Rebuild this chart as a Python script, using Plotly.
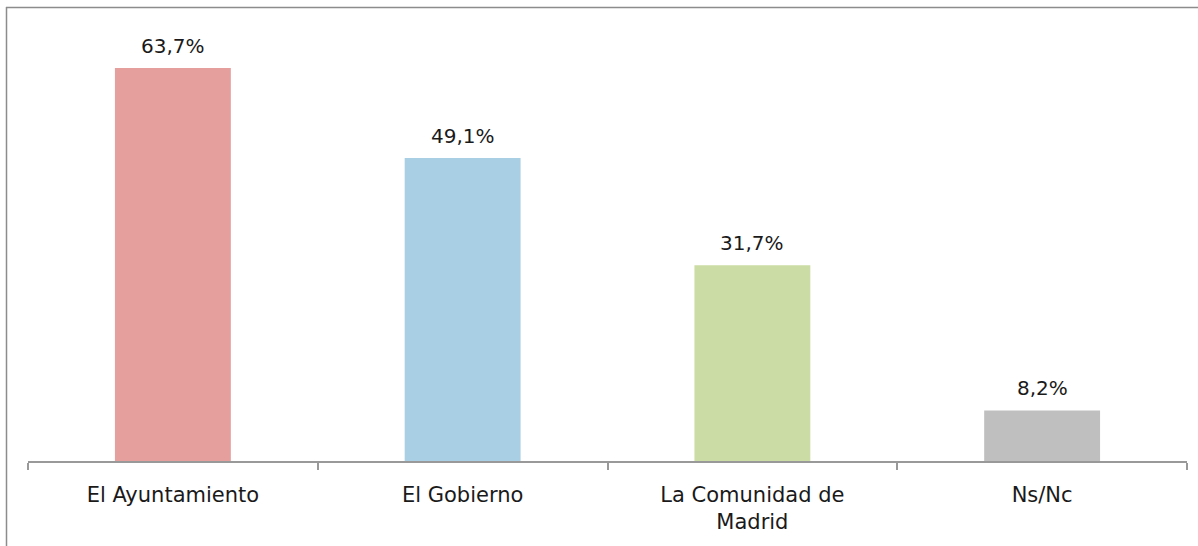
import plotly.graph_objects as go

categories = ["El Ayuntamiento", "El Gobierno", "La Comunidad de<br>Madrid", "Ns/Nc"]
values = [63.7, 49.1, 31.7, 8.2]
labels = ["63,7%", "49,1%", "31,7%", "8,2%"]
colors = ["#E59F9D", "#A9CFE5", "#CBDDA4", "#BFBFBF"]

W, H = 1198, 546
ml, mr, mt, mb = 28, 11, 29, 85
pw, ph = W - ml - mr, H - mt - mb

fig = go.Figure(go.Bar(
    x=categories, y=values,
    marker=dict(color=colors, line=dict(width=0)),
    width=0.4, cliponaxis=False, hoverinfo="skip",
))

for c, v, t in zip(categories, values, labels):
    fig.add_annotation(x=c, y=v, text=t, showarrow=False, yanchor="bottom",
                       yshift=8, font=dict(size=20, color="#1a1a1a"))

def px_x(p):
    return (p - ml) / pw

def px_y(p):
    return 1 - (p - mt) / ph

fig.update_layout(
    width=W, height=H,
    margin=dict(l=ml, r=mr, t=mt, b=mb),
    paper_bgcolor="white", plot_bgcolor="white",
    font=dict(family="DejaVu Sans", size=20, color="#1a1a1a"),
    showlegend=False,
    xaxis=dict(showline=True, linecolor="#999999", linewidth=1.5,
               ticks="outside", tickson="boundaries", ticklen=7,
               tickcolor="#999999", tickwidth=1.5, showgrid=False,
               ticklabelstandoff=14,
               tickfont=dict(size=21, color="#1a1a1a")),
    yaxis=dict(range=[0, 70], visible=False, showgrid=False),
    shapes=[
        dict(type="line", xref="paper", yref="paper",
             x0=px_x(6), x1=px_x(1198), y0=px_y(7.5), y1=px_y(7.5),
             line=dict(color="#8c8c8c", width=1.5)),
        dict(type="line", xref="paper", yref="paper",
             x0=px_x(6.5), x1=px_x(6.5), y0=px_y(7), y1=px_y(546),
             line=dict(color="#8c8c8c", width=1.5)),
    ],
)

fig.write_html("out.html", config={"displayModeBar": False},
               post_script="document.body.style.margin='0';")
